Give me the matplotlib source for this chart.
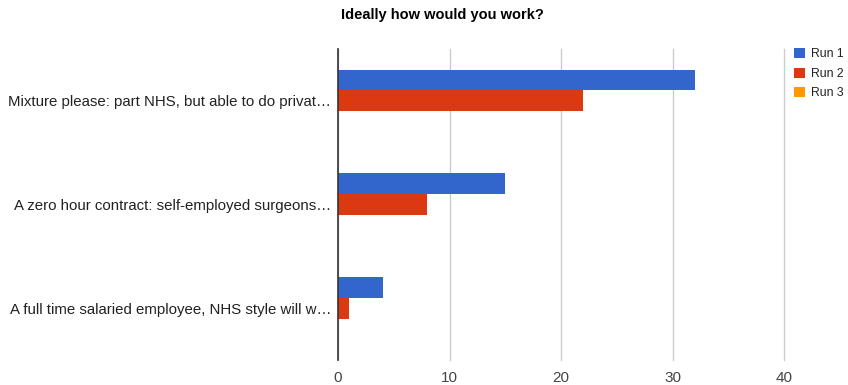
import matplotlib.pyplot as plt
import numpy as np

plt.rcParams['font.family'] = ['Liberation Sans', 'DejaVu Sans']

# data
categories = ['Mixture please: part NHS, but able to do privat\u2026',
              'A zero hour contract: self-employed surgeons\u2026',
              'A full time salaried employee, NHS style will w\u2026']
series_names = ['Run 1', 'Run 2', 'Run 3']
run1 = [32, 15, 4]
run2 = [22, 8, 1]
run3 = [0, 0, 0]
colors = ['#3366cc', '#dc3912', '#ff9900']
x_ticks = [0, 10, 20, 30, 40]

fig = plt.figure(figsize=(8.48, 3.85), dpi=100)
ax = fig.add_axes([338 / 848, 25 / 385, 446 / 848, 311 / 385])

y = np.arange(len(categories))
h = 0.2
for i, (vals, name, c) in enumerate(zip([run1, run2, run3], series_names, colors)):
    ax.barh(y + (i - 1) * h, vals, height=h, color=c, label=name)

ax.set_xlim(0, 40)
ax.set_ylim(2.5, -0.5)
ax.set_xticks(x_ticks)
ax.set_yticks(y)
ax.set_yticklabels(categories, fontsize=10.8, color='#222222')
ax.tick_params(axis='both', length=0)
ax.tick_params(axis='x', labelsize=11, labelcolor='#444444', pad=8)
ax.tick_params(axis='y', pad=5)

ax.grid(axis='x', color='#cccccc', linewidth=1)
ax.set_axisbelow(True)
for gl in ax.get_xgridlines():
    gl.set_clip_on(False)
for s in ['top', 'right', 'bottom']:
    ax.spines[s].set_visible(False)
ax.spines['left'].set_color('#333333')
ax.spines['left'].set_linewidth(1.2)
ax.spines['left'].set_zorder(3)

fig.text(442 / 848, 1 - 15 / 385, 'Ideally how would you work?', ha='center', va='center',
         fontsize=10.5, fontweight='bold', color='#000000')

fig.legend(loc='upper left', bbox_to_anchor=(789 / 848, 1 - 43 / 385), frameon=False,
           fontsize=8.8, handlelength=0.9, handleheight=0.9, handletextpad=0.5,
           labelspacing=0.6, borderaxespad=0, labelcolor='#222222')

fig.savefig('out.png', dpi=100)
